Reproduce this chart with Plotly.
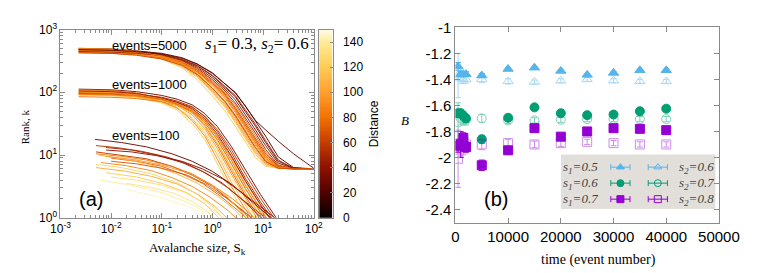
import plotly.graph_objects as go
from plotly.colors import sample_colorscale

W, H = 761, 273

# ---------------- Panel (a) data (log10 values) -------------
# events=5000 family: shared log10(S) grid, per-curve log10(k) and distance
G5 = [-2.64, -2.0, -1.5, -1.0, -0.6, -0.3, 0.0, 0.25, 0.45, 0.65, 0.85, 1.05, 1.3, 1.6, 2.0]
K5 = [
    [2.68, 2.67, 2.65, 2.60, 2.52, 2.42, 2.26, 2.08, 1.93, 1.69, 1.46, 1.20, 0.90, 0.79, 0.78],
    [2.66, 2.65, 2.63, 2.58, 2.50, 2.38, 2.20, 2.02, 1.83, 1.60, 1.35, 1.09, 0.84, 0.78, 0.78],
    [2.70, 2.69, 2.66, 2.62, 2.55, 2.45, 2.31, 2.14, 1.99, 1.78, 1.55, 1.30, 0.97, 0.80, 0.78],
    [2.64, 2.63, 2.61, 2.56, 2.48, 2.35, 2.16, 1.97, 1.76, 1.52, 1.28, 1.02, 0.82, 0.78, 0.78],
    [2.68, 2.67, 2.64, 2.57, 2.47, 2.33, 2.12, 1.92, 1.70, 1.45, 1.20, 0.95, 0.80, 0.78, 0.78],
    [2.65, 2.64, 2.61, 2.55, 2.44, 2.29, 2.07, 1.86, 1.64, 1.39, 1.14, 0.91, 0.79, 0.78, 0.78],
    [2.69, 2.68, 2.64, 2.56, 2.44, 2.28, 2.03, 1.81, 1.58, 1.32, 1.07, 0.87, 0.79, 0.78, 0.78],
    [2.66, 2.65, 2.62, 2.54, 2.41, 2.24, 1.99, 1.76, 1.52, 1.26, 1.01, 0.84, 0.79, 0.78, 0.78],
    [2.67, 2.66, 2.62, 2.53, 2.39, 2.20, 1.94, 1.70, 1.46, 1.20, 0.96, 0.82, 0.79, 0.78, 0.78],
    [2.63, 2.62, 2.60, 2.55, 2.46, 2.33, 2.14, 1.95, 1.73, 1.48, 1.24, 0.98, 0.81, 0.78, 0.78],
    [2.70, 2.69, 2.65, 2.57, 2.45, 2.30, 2.06, 1.84, 1.61, 1.35, 1.10, 0.89, 0.79, 0.78, 0.78],
    [2.67, 2.66, 2.64, 2.59, 2.51, 2.40, 2.23, 2.05, 1.88, 1.65, 1.40, 1.15, 0.87, 0.79, 0.78],
    [2.64, 2.63, 2.60, 2.53, 2.42, 2.26, 2.01, 1.79, 1.55, 1.29, 1.04, 0.86, 0.79, 0.78, 0.78],
    [2.67, 2.66, 2.63, 2.58, 2.49, 2.37, 2.18, 1.99, 1.80, 1.56, 1.31, 1.05, 0.83, 0.78, 0.78],
    [2.66, 2.65, 2.62, 2.56, 2.46, 2.32, 2.10, 1.90, 1.68, 1.43, 1.18, 0.93, 0.80, 0.78, 0.78],
    [2.65, 2.64, 2.62, 2.59, 2.52, 2.43, 2.27, 2.10, 1.95, 1.72, 1.49, 1.23, 0.92, 0.79, 0.78],
    [2.69, 2.68, 2.65, 2.58, 2.49, 2.36, 2.15, 1.95, 1.74, 1.49, 1.25, 0.99, 0.81, 0.78, 0.78],
    [2.63, 2.62, 2.59, 2.53, 2.43, 2.28, 2.06, 1.85, 1.63, 1.37, 1.12, 0.90, 0.79, 0.78, 0.78],
    [2.68, 2.67, 2.65, 2.61, 2.54, 2.45, 2.30, 2.14, 2.00, 1.78, 1.55, 1.40, 1.22, 1.02, 0.79],
]
D5 = [30, 45, 22, 60, 80, 95, 105, 112, 120, 70, 88, 38, 100, 78, 92, 50, 85, 65, 28]

# events=1000 family
G1 = [-2.64, -2.0, -1.5, -1.0, -0.7, -0.4, -0.15, 0.1, 0.37, 0.65, 0.95, 1.3]
K1 = [
    [1.99, 1.97, 1.93, 1.83, 1.72, 1.50, 1.25, 0.86, 0.43, 0.06, -0.35, -0.8],
    [1.97, 1.96, 1.93, 1.85, 1.76, 1.58, 1.34, 1.00, 0.57, 0.18, -0.22, -0.65],
    [2.02, 2.01, 1.97, 1.89, 1.79, 1.64, 1.42, 1.10, 0.70, 0.30, -0.10, -0.5],
    [1.99, 1.98, 1.95, 1.88, 1.80, 1.68, 1.48, 1.18, 0.80, 0.40, 0.03, -0.4],
    [1.96, 1.95, 1.93, 1.88, 1.82, 1.72, 1.55, 1.28, 0.92, 0.52, 0.14, -0.3],
    [2.00, 1.99, 1.97, 1.92, 1.86, 1.77, 1.61, 1.37, 1.04, 0.63, 0.25, -0.15],
    [2.05, 2.04, 2.01, 1.95, 1.89, 1.80, 1.66, 1.45, 1.14, 0.76, 0.37, -0.05],
    [2.03, 2.02, 1.98, 1.90, 1.82, 1.70, 1.51, 1.23, 0.86, 0.46, 0.08, -0.35],
    [1.95, 1.94, 1.91, 1.84, 1.75, 1.60, 1.38, 1.05, 0.63, 0.24, -0.16, -0.6],
    [1.93, 1.92, 1.90, 1.85, 1.79, 1.70, 1.55, 1.30, 0.97, 0.58, 0.20, -0.22],
    [1.98, 1.97, 1.95, 1.90, 1.84, 1.76, 1.62, 1.40, 1.09, 0.70, 0.31, -0.1],
    [2.04, 2.03, 1.99, 1.90, 1.81, 1.67, 1.46, 1.15, 0.75, 0.35, -0.04, -0.45],
    [2.00, 1.99, 1.95, 1.85, 1.75, 1.55, 1.30, 0.93, 0.50, 0.12, -0.28, -0.7],
    [1.96, 1.95, 1.93, 1.87, 1.79, 1.67, 1.47, 1.17, 0.79, 0.39, 0.02, -0.4],
    [2.01, 2.00, 1.97, 1.90, 1.83, 1.73, 1.56, 1.29, 0.93, 0.53, 0.15, -0.3],
    [1.97, 1.96, 1.94, 1.88, 1.81, 1.70, 1.52, 1.24, 0.87, 0.47, 0.09, -0.35],
    [2.02, 2.01, 1.98, 1.91, 1.84, 1.74, 1.58, 1.33, 0.99, 0.59, 0.21, -0.2],
]
D1 = [120, 110, 95, 85, 70, 50, 35, 105, 130, 80, 60, 75, 90, 115, 100, 82, 45]

# events=100 family: each curve has its own log10(S) and log10(k)
S100 = [
    [-2.32, -1.8, -1.3, -0.8, -0.4, 0.0, 0.4, 0.8, 1.1, 1.3],
    [-2.1, -1.6, -1.1, -0.6, -0.2, 0.2, 0.6, 0.9, 1.1],
    [-2.3, -1.8, -1.3, -0.8, -0.4, 0.0, 0.35, 0.7, 0.9],
    [-2.0, -1.5, -1.0, -0.6, -0.2, 0.15, 0.5, 0.8],
    [-2.2, -1.7, -1.2, -0.8, -0.4, -0.05, 0.3, 0.6],
    [-2.3, -1.7, -1.2, -0.7, -0.3, 0.05, 0.35],
    [-2.1, -1.5, -1.0, -0.5, -0.15, 0.15],
    [-1.7, -1.2, -0.8, -0.4, -0.1, 0.1],
    [-1.7, -1.1, -0.56, -0.3, -0.28],
    [-2.3, -1.9, -1.4, -0.9, -0.5, -0.1, 0.3, 0.7, 1.0, 1.2],
    [-2.25, -1.7, -1.2, -0.7, -0.3, 0.1, 0.45, 0.7],
    [-2.0, -1.5, -1.0, -0.6, -0.25, 0.05, 0.3],
    [-2.3, -1.8, -1.3, -0.8, -0.4, 0.0, 0.4, 0.7, 0.95],
    [-2.1, -1.6, -1.1, -0.6, -0.2, 0.2, 0.55, 0.9, 1.2, 1.35],
    [-2.2, -1.6, -1.0, -0.5, -0.2, -0.15],
    [-2.0, -1.5, -1.0, -0.5, -0.1, 0.3, 0.6, 0.85],
    [-2.3, -1.8, -1.2, -0.7, -0.35, 0.0, 0.25],
    [-2.1, -1.5, -1.0, -0.5, -0.1, 0.25, 0.55, 0.75],
]
K100 = [
    [1.25, 1.2, 1.13, 1.02, 0.90, 0.74, 0.52, 0.25, 0.05, -0.1],
    [1.12, 1.08, 1.0, 0.88, 0.74, 0.55, 0.28, 0.06, -0.1],
    [1.05, 1.0, 0.94, 0.82, 0.68, 0.5, 0.28, 0.05, -0.1],
    [0.95, 0.9, 0.82, 0.70, 0.55, 0.35, 0.12, -0.1],
    [0.88, 0.83, 0.75, 0.64, 0.50, 0.33, 0.12, -0.1],
    [0.80, 0.74, 0.66, 0.54, 0.38, 0.18, -0.05],
    [0.72, 0.65, 0.55, 0.40, 0.22, -0.02],
    [0.55, 0.48, 0.40, 0.26, 0.10, -0.05],
    [0.45, 0.34, 0.2, 0.12, -0.1],
    [1.15, 1.12, 1.06, 0.97, 0.86, 0.70, 0.48, 0.22, 0.02, -0.1],
    [1.0, 0.93, 0.84, 0.70, 0.55, 0.35, 0.12, -0.1],
    [0.65, 0.60, 0.52, 0.42, 0.28, 0.1, -0.05],
    [1.02, 0.98, 0.92, 0.82, 0.70, 0.52, 0.30, 0.1, -0.1],
    [1.08, 1.05, 0.99, 0.90, 0.78, 0.62, 0.42, 0.2, 0.02, -0.1],
    [0.6, 0.52, 0.40, 0.25, 0.12, -0.1],
    [0.9, 0.86, 0.79, 0.68, 0.52, 0.3, 0.1, -0.1],
    [0.85, 0.80, 0.70, 0.56, 0.40, 0.18, -0.05],
    [0.98, 0.92, 0.84, 0.72, 0.56, 0.36, 0.12, -0.1],
]
D100 = [30, 45, 60, 75, 90, 105, 120, 135, 145, 55, 110, 130, 85, 40, 140, 70, 125, 95]

LOG_TICKS_X = [1e-3, 1e-2, 1e-1, 1e0, 1e1, 1e2]
LOG_TICKTEXT_X = ["10<sup>-3</sup>", "10<sup>-2</sup>", "10<sup>-1</sup>", "10<sup>0</sup>", "10<sup>1</sup>", "10<sup>2</sup>"]
LOG_TICKS_Y = [1e0, 1e1, 1e2, 1e3]
LOG_TICKTEXT_Y = ["10<sup>0</sup>", "10<sup>1</sup>", "10<sup>2</sup>", "10<sup>3</sup>"]
CB_TICKS = [0, 20, 40, 60, 80, 100, 120, 140]
CB_LEVELS = list(range(0, 151))  # colour-box gradient levels (distance 0..150)

# ---------------- Panel (b) data -------------
t = [500, 1000, 1500, 2000, 5000, 10000, 15000, 20000, 25000, 30000, 35000, 40000]
B_s1_05 = [-1.30, -1.36, -1.36, -1.36, -1.37, -1.32, -1.31, -1.335, -1.365, -1.35, -1.33, -1.33]
E_s1_05 = [0.03, 0.02, 0.02, 0.02, 0.015, 0.01, 0.01, 0.01, 0.01, 0.01, 0.01, 0.01]
B_s2_06 = [-1.37, -1.39, -1.40, -1.40, -1.40, -1.415, -1.42, -1.41, -1.40, -1.41, -1.415, -1.415]
E_s2_06 = [0.17, 0.04, 0.03, 0.03, 0.025, 0.02, 0.015, 0.015, 0.015, 0.015, 0.015, 0.015]
B_s1_06 = [-1.66, -1.66, -1.68, -1.70, -1.86, -1.695, -1.615, -1.66, -1.675, -1.67, -1.645, -1.625]
E_s1_06 = [0.03, 0.03, 0.03, 0.03, 0.03, 0.02, 0.015, 0.015, 0.015, 0.015, 0.015, 0.015]
B_s2_07 = [-1.73, -1.70, -1.71, -1.71, -1.70, -1.715, -1.715, -1.71, -1.705, -1.705, -1.705, -1.705]
E_s2_07 = [0.15, 0.05, 0.04, 0.04, 0.03, 0.025, 0.02, 0.02, 0.02, 0.02, 0.02, 0.02]
B_s1_07 = [-1.91, -1.90, -1.85, -1.92, -2.06, -1.945, -1.775, -1.84, -1.80, -1.775, -1.78, -1.79]
E_s1_07 = [0.05, 0.10, 0.04, 0.04, 0.04, 0.03, 0.02, 0.02, 0.02, 0.02, 0.02, 0.02]
B_s2_08 = [-2.01, -1.92, -1.93, -1.90, -1.90, -1.89, -1.90, -1.89, -1.88, -1.89, -1.90, -1.90]
E_s2_08 = [0.22, 0.07, 0.05, 0.05, 0.04, 0.03, 0.025, 0.025, 0.02, 0.02, 0.02, 0.02]
B_TICKS = [-1, -1.2, -1.4, -1.6, -1.8, -2, -2.2, -2.4]
B_TICKTEXT = ["-1", "-1.2", "-1.4", "-1.6", "-1.8", "-2", "-2.2", "-2.4"]
T_TICKS = [0, 10000, 20000, 30000, 40000, 50000]
T_TICKTEXT = ["0", "10000", "20000", "30000", "40000", "50000"]

# ---------------- styling -------------
CSCALE = [[0.0, "#000000"], [0.13, "#4d0000"], [0.27, "#8c1200"], [0.40, "#c43c00"],
          [0.53, "#f07000"], [0.67, "#ffa030"], [0.80, "#ffcc55"], [0.93, "#ffeb95"],
          [1.0, "#fffce8"]]
DMAX = 150.0
SANS = "Liberation Sans, Arial, sans-serif"
SERIF = "Liberation Serif, Times New Roman, serif"
FRAME = "#8a8a8a"


def px_x(p):
    return p / W


def px_y(p):
    return 1 - p / H


fig = go.Figure()


def add_curve(xs, ys, d, width=1.0):
    col = sample_colorscale(CSCALE, [d / DMAX])[0]
    fig.add_trace(go.Scatter(x=[10 ** v for v in xs], y=[10 ** v for v in ys], mode="lines",
                             line=dict(color=col, width=width), opacity=0.92,
                             showlegend=False, hoverinfo="skip", xaxis="x", yaxis="y"))


for ks, d in zip(K5, D5):
    add_curve(G5, ks, d)
for ks, d in zip(K1, D1):
    add_curve(G1, ks, d)
for ss, ks, d in zip(S100, K100, D100):
    add_curve(ss, ks, d)

# colour box (drawn as a one-column heatmap on its own axis)
fig.add_trace(go.Heatmap(z=[[v] for v in CB_LEVELS], x=[0], y=CB_LEVELS, colorscale=CSCALE,
                         zmin=0, zmax=DMAX, showscale=False, hoverinfo="skip",
                         xaxis="x3", yaxis="y3"))

# panel (b) series
series = [
    ("<i>s<sub>1</sub>=0.5</i>", B_s1_05, E_s1_05, "#56B4E9", "triangle-up", 1.0),
    ("<i>s<sub>2</sub>=0.6</i>", B_s2_06, E_s2_06, "#56B4E9", "triangle-up-open", 0.5),
    ("<i>s<sub>1</sub>=0.6</i>", B_s1_06, E_s1_06, "#009E73", "circle", 1.0),
    ("<i>s<sub>2</sub>=0.7</i>", B_s2_07, E_s2_07, "#009E73", "circle-open", 0.5),
    ("<i>s<sub>1</sub>=0.7</i>", B_s1_07, E_s1_07, "#9400D3", "square", 1.0),
    ("<i>s<sub>2</sub>=0.8</i>", B_s2_08, E_s2_08, "#9400D3", "square-open", 0.45),
]
for name, ys, es, col, sym, op in series:
    fig.add_trace(go.Scatter(x=t, y=ys, mode="markers", name=name, opacity=op, showlegend=False,
                             marker=dict(symbol=sym, size=9, color=col, line=dict(width=1, color=col)),
                             error_y=dict(type="data", array=es, color=col, thickness=1, width=3),
                             xaxis="x2", yaxis="y2"))

# key box for panel (b): overlay axis measured in page pixels
KEY_X0, KEY_X1, KEY_Y0, KEY_Y1 = 566, 727, 146, 204
ROWS = [159.5, 176.5, 193.5]
for i, (name, ys, es, col, sym, op) in enumerate(series):
    row = ROWS[i // 2]
    col_idx = i % 2
    mx = 628 if col_idx == 0 else 667
    fig.add_trace(go.Scatter(x=[mx], y=[row], mode="markers", showlegend=False, hoverinfo="skip",
                             marker=dict(symbol=sym, size=7, color=col, line=dict(width=1, color=col)),
                             error_x=dict(type="constant", value=10, color=col, thickness=1, width=3),
                             xaxis="x4", yaxis="y4"))
    if col_idx == 0:
        fig.add_annotation(text=name, x=607, y=row, xref="x4", yref="y4", xanchor="right",
                           yanchor="middle", showarrow=False,
                           font=dict(family=SERIF, size=13, color="#444"))
    else:
        fig.add_annotation(text=name, x=687, y=row, xref="x4", yref="y4", xanchor="left",
                           yanchor="middle", showarrow=False,
                           font=dict(family=SERIF, size=13, color="#444"))

axis_common = dict(showline=True, linecolor=FRAME, linewidth=1, mirror="ticks", ticks="inside",
                   tickcolor=FRAME, showgrid=False, zeroline=False)

fig.update_layout(
    width=W, height=H, margin=dict(l=0, r=0, t=0, b=0), showlegend=False,
    paper_bgcolor="white", plot_bgcolor="rgba(0,0,0,0)",
    xaxis=dict(type="log", range=[-3, 2], domain=[px_x(44.3), px_x(308.3)], anchor="y",
               tickvals=LOG_TICKS_X, ticktext=LOG_TICKTEXT_X, ticklen=5,
               minor=dict(ticks="inside", ticklen=3, tickcolor=FRAME, dtick="D1"),
               tickfont=dict(family=SANS, size=12, color="#000"), **axis_common),
    yaxis=dict(type="log", range=[0, 3], domain=[px_y(213.3), px_y(13.3)], anchor="x",
               tickvals=LOG_TICKS_Y, ticktext=LOG_TICKTEXT_Y, ticklen=5,
               minor=dict(ticks="inside", ticklen=3, tickcolor=FRAME, dtick="D1"),
               tickfont=dict(family=SANS, size=12, color="#000"), **axis_common),
    xaxis3=dict(domain=[px_x(314), px_x(328)], anchor="y3", range=[-0.5, 0.5],
                showticklabels=False, ticks="", showline=True, mirror=True, linecolor=FRAME,
                showgrid=False, zeroline=False),
    yaxis3=dict(domain=[px_y(213.3), px_y(13.3)], anchor="x3", range=[0, DMAX], side="right",
                tickvals=CB_TICKS, ticks="inside", ticklen=3, tickcolor=FRAME, ticklabelstandoff=7,
                showline=True, mirror=True, linecolor=FRAME, showgrid=False, zeroline=False,
                tickfont=dict(family=SANS, size=12, color="#000")),
    xaxis2=dict(range=[0, 50000], domain=[px_x(456), px_x(730.7)], anchor="y2",
                tickvals=T_TICKS, ticktext=T_TICKTEXT, ticklen=5,
                tickfont=dict(family=SANS, size=15, color="#000"), **axis_common),
    yaxis2=dict(range=[-2.5, -1], domain=[px_y(218.3), px_y(11)], anchor="x2",
                tickvals=B_TICKS, ticktext=B_TICKTEXT, ticklen=5,
                tickfont=dict(family=SANS, size=15, color="#000"), **axis_common),
    xaxis4=dict(domain=[px_x(KEY_X0), px_x(KEY_X1)], range=[KEY_X0, KEY_X1], anchor="y4",
                visible=False, fixedrange=True),
    yaxis4=dict(domain=[px_y(KEY_Y1), px_y(KEY_Y0)], range=[KEY_Y1, KEY_Y0], anchor="x4",
                visible=False, fixedrange=True),
)

fig.add_shape(type="rect", xref="paper", yref="paper", x0=px_x(KEY_X0), x1=px_x(KEY_X1),
              y0=px_y(KEY_Y1), y1=px_y(KEY_Y0), fillcolor="#e2dfdb", line=dict(width=0),
              layer="below")

ann = [
    dict(text="events=5000", x=px_x(96), y=px_y(30), xanchor="left", font=dict(family=SANS, size=13)),
    dict(text="events=1000", x=px_x(96), y=px_y(72), xanchor="left", font=dict(family=SANS, size=13)),
    dict(text="events=100", x=px_x(96), y=px_y(126), xanchor="left", font=dict(family=SANS, size=13)),
    dict(text="(a)", x=px_x(61), y=px_y(193), xanchor="left", font=dict(family=SANS, size=20)),
    dict(text="(b)", x=px_x(484), y=px_y(193), xanchor="left", font=dict(family=SANS, size=20)),
    dict(text="<i>s</i><sub>1</sub>= 0.3, <i>s</i><sub>2</sub>= 0.6", x=px_x(305), y=px_y(30),
         xanchor="right", font=dict(family=SERIF, size=17)),
    dict(text="Avalanche size, S<sub>k</sub>", x=px_x(187), y=px_y(246), xanchor="center",
         font=dict(family=SERIF, size=13)),
    dict(text="Rank, k", x=px_x(7.5), y=px_y(117), textangle=-90, xanchor="center",
         font=dict(family=SERIF, size=11)),
    dict(text="Distance", x=px_x(371), y=px_y(113), textangle=-90, xanchor="center",
         font=dict(family=SANS, size=12)),
    dict(text="<i>B</i>", x=px_x(403), y=px_y(110), xanchor="center", font=dict(family=SERIF, size=13)),
    dict(text="time (event number)", x=px_x(605), y=px_y(258), xanchor="center",
         font=dict(family=SERIF, size=14)),
]
for a in ann:
    a.update(xref="paper", yref="paper", showarrow=False, yanchor="middle")
    a["font"].setdefault("color", "#000")
    fig.add_annotation(**a)

fig.write_html("out.html")
